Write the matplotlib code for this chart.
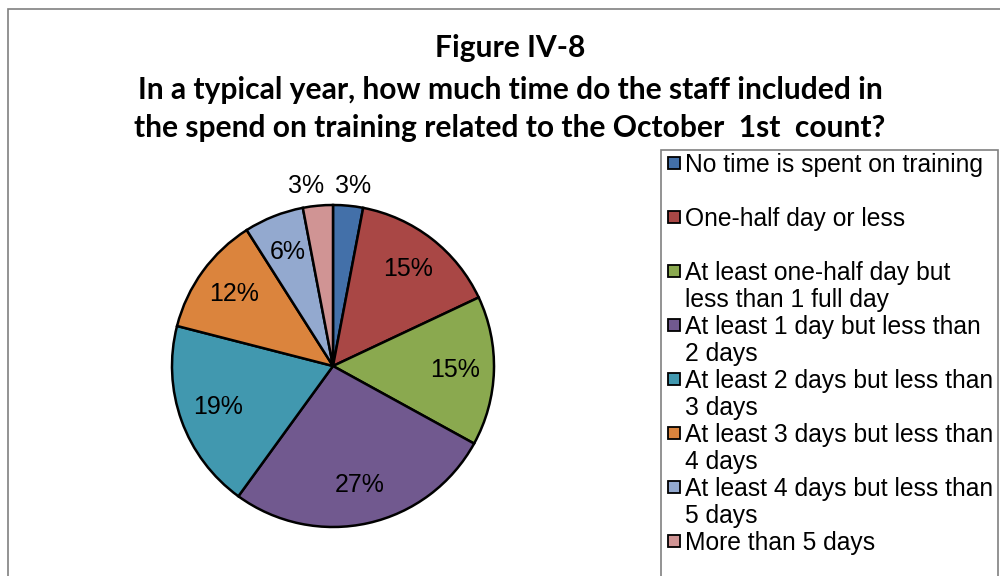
import matplotlib.pyplot as plt
from matplotlib.patches import Rectangle
import numpy as np

labels = [
    "No time is spent on training",
    "One-half day or less",
    "At least one-half day but\nless than 1 full day",
    "At least 1 day but less than\n2 days",
    "At least 2 days but less than\n3 days",
    "At least 3 days but less than\n4 days",
    "At least 4 days but less than\n5 days",
    "More than 5 days",
]
values = [3, 15, 15, 27, 19, 12, 6, 3]
colors = ["#4370A9", "#A94745", "#8AA94F", "#71598F", "#4198AF", "#DB843D", "#93A9CF", "#D09494"]

W, H = 1000, 576
fig = plt.figure(figsize=(W / 100, H / 100), dpi=100)

def fx(px):
    return px / W

def fy(py):
    return 1 - py / H

# outer chart border
fig.patches.append(Rectangle((fx(8), -0.1), 1.1, fy(9) + 0.1, transform=fig.transFigure,
                             fill=False, edgecolor="#808080", lw=1.2))

title_lines = ["Figure IV-8",
               "In a typical year, how much time do the staff included in",
               "the spend on training related to the October  1st  count?"]
for line, py in zip(title_lines, [48, 90, 128]):
    fig.text(fx(510), fy(py), line, ha="center", va="center",
             fontsize=21.6, fontweight="bold", family="Lato")

ax = fig.add_axes([fx(333 - 161), fy(366 + 161), fx(322), 322 / H])
wedges, _ = ax.pie(values, colors=colors, startangle=90, counterclock=False,
                   wedgeprops=dict(edgecolor="black", linewidth=1.8))
ax.set_aspect("equal")
ax.set_xlim(-1, 1)
ax.set_ylim(-1, 1)

# percentage labels
cum = np.cumsum([0] + values[:-1])
for v, c in zip(values, cum):
    ang = np.deg2rad(90 - (c + v / 2) * 3.6)
    if v <= 3:
        r = 1.12
        x, y = r * np.cos(ang), r * np.sin(ang)
        x += 0.02 if x > 0 else -0.06
    else:
        r = 0.76
        x, y = r * np.cos(ang), r * np.sin(ang)
    ax.text(x, y, f"{v}%", ha="center", va="center", fontsize=18,
            family="Liberation Sans", clip_on=False)

# legend, drawn by hand so each entry takes two lines like the original
fig.patches.append(Rectangle((fx(661), fy(600)), fx(337), (600 - 150) / H,
                             transform=fig.transFigure, fill=False,
                             edgecolor="#808080", lw=1.2))
for i, (lab, col) in enumerate(zip(labels, colors)):
    py = 163 + 54 * i
    fig.patches.append(Rectangle((fx(668), fy(py + 6)), fx(12), 12 / H,
                                 transform=fig.transFigure, facecolor=col,
                                 edgecolor="black", lw=1.3))
    for j, part in enumerate(lab.split("\n")):
        fig.text(fx(685), fy(py + 9 + 27 * j), part, ha="left", va="baseline",
                 fontsize=17.7, family="Liberation Sans")

fig.savefig("out.png", dpi=100)
